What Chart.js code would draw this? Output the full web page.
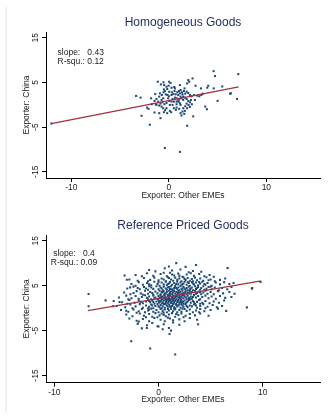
<!DOCTYPE html>
<html>
<head>
<meta charset="utf-8">
<script src="https://cdn.jsdelivr.net/npm/chart.js@4"></script>
<style>
  html, body { margin:0; padding:0; background:#fff; }
  #wrap { position:relative; width:331px; height:420px; overflow:hidden; }
  .panel { position:absolute; left:0; width:331px; height:210px; }
  #edge { position:absolute; left:5px; top:7px; width:2px; height:406px; background:#eef2f5; }
</style>
</head>
<body>
<div id="wrap">
  <div id="edge"></div>
  <div class="panel" style="top:0"><canvas id="c1" width="331" height="210"></canvas></div>
  <div class="panel" style="top:210px"><canvas id="c2" width="331" height="210"></canvas></div>
</div>
<script>
// ---------- data ----------
const titles = ["Homogeneous Goods", "Reference Priced Goods"];
const xAxisTitle = "Exporter: Other EMEs";
const yAxisTitle = "Exporter: China";
const xTickValues = [-10, 0, 10];
const yTickValues = [-15, -5, 5, 15];
const statsHomogeneous = ["slope:   0.43", "R-squ.: 0.12"];
const statsReference = ["slope:   0.4", "R-squ.: 0.09"];

// fitted lines (end points)
const homogeneousFitX = [-12.05, 7.16];
const homogeneousFitY = [-4.2, 4.0];
const referenceFitX = [-6.78, 9.86];
const referenceFitY = [-0.56, 6.1];

// scatter points [x, y]
const homogeneousPoints = [
[-12.05,-4.2],[-3.36,1.98],[-2.9,1.6],[-2.8,-2.47],[-1.95,-4.47],[-0.41,-9.67],[1.13,-10.56],[1.88,-4.7],[2.5,-2.6],
[4.59,7.53],[4.73,6.42],[7.12,6.87],[6.99,1.31],[6.37,2.56],[6.27,2.49],[5.48,4.1],[5.0,0.87],[3.9,-1.0],[3.73,-0.4],
[4.04,4.27],[3.94,3.82],[4.6,3.67],[3.46,2.49],[3.29,3.67],[2.74,4.27],[2.43,5.9],[1.99,5.53],[2.09,5.16],[1.88,4.78],
[-1.13,5.16],[-0.82,4.56],[-0.55,5.01],[-0.48,4.41],[-0.24,4.04],[0.03,5.16],[0.17,4.86],[-0.03,4.27],[0.27,3.82],
[0.55,3.97],[0.62,3.67],[-0.51,3.45],[-0.41,3.08],[-0.17,3.53],[-0.55,2.79],[-0.31,2.34],[-1.40,2.41],[-0.99,1.82],
[-0.72,2.19],[-0.14,2.19],[0.00,1.90],[0.27,2.19],[0.45,2.41],[0.69,2.34],[0.86,2.79],[1.03,3.08],[1.20,3.30],
[1.34,2.79],[0.96,2.19],[1.20,1.82],[1.40,2.34],[1.68,2.49],[1.82,2.93],[1.99,2.64],[2.16,2.19],[2.33,1.90],
[2.57,2.19],[2.91,2.04],[3.12,1.90],[3.32,2.19],[1.13,4.41],[1.61,3.67],[1.54,3.08],[0.79,1.45],[1.06,1.23],
[1.30,1.45],[1.47,1.08],[1.64,1.60],[1.82,1.30],[1.99,0.86],[2.16,0.56],[2.36,0.12],[0.99,0.71],[1.13,0.34],
[1.20,-0.03],[0.79,0.12],[0.51,0.71],[0.38,-0.03],[0.27,0.71],[0.03,0.86],[-0.24,0.41],[-0.45,0.12],[-0.65,0.56],
[-0.86,0.27],[-0.99,-0.18],[-1.27,-0.03],[-1.47,0.86],[-1.82,1.45],[-1.34,0.12],[-0.75,-0.40],[-0.58,-0.77],
[-0.38,-1.21],[-0.51,-1.66],[-0.17,-1.88],[0.10,-1.36],[0.24,-1.66],[-0.99,-1.88],[-1.47,-1.73],[-0.86,-2.99],
[-2.23,-0.62],[-2.09,-0.92],[-1.75,0.12],[0.79,-0.62],[1.06,-0.92],[1.47,-0.77],[1.68,-0.33],[2.02,-0.03],
[1.20,-1.88],[1.40,-1.51],[1.64,-1.36],[1.88,-0.77],[2.16,-0.47],[0.72,-1.14],[0.51,-0.77],[1.30,-2.40],
[1.58,-2.03],[0.10,-0.03],[-0.07,1.45],[0.96,0.86],[0.62,1.60],[0.38,1.30],[0.79,0.71],[1.13,2.56],[1.47,1.82],
[1.82,0.27],[2.26,1.08],[2.67,1.08],[-0.24,-0.77],[-0.58,1.45],[-0.75,1.08],[-1.10,0.71],[-1.27,1.30],
[-0.92,2.56],[0.03,2.93],[0.31,2.79],[0.58,3.08]
];

const referencePoints = [
// outliers
[-6.71,3.15],[-6.71,0.41],[-5.08,1.74],[-4.38,0.41],[-3.26,7.30],[-3.04,6.33],[-3.74,1.37],[-3.10,-0.56],[-2.72,4.63],
[-2.62,-7.37],[-0.80,-9.00],[1.60,-10.33],[1.70,10.04],[6.63,8.92],[8.48,0.18],[9.0,4.48],[9.79,5.81],[8.96,4.33],
// y 8..10
[-0.3,8.2],[0.6,8.9],[1.3,8.4],[2.1,8.6],[2.6,9.2],[3.3,8.3],[3.6,9.6],[-0.9,8.5],[4.1,8.1],[1.0,9.3],[2.9,8.0],
// y 7..8
[-2.2,7.4],[-1.1,7.8],[-0.5,7.2],[0.2,7.6],[0.8,7.1],[1.1,7.9],[1.5,7.3],[1.9,7.7],[2.3,7.0],[2.7,7.5],[3.1,7.8],
[3.4,7.2],[3.9,7.6],[4.4,7.1],[4.9,7.4],[0.5,7.9],[2.0,7.2],[-1.6,7.1],[5.3,7.0],[1.3,7.5],
// y 6..7
[-2.8,6.4],[-2.0,6.1],[-1.4,6.7],[-0.8,6.3],[-0.4,6.8],[0.0,6.2],[0.3,6.6],[0.7,6.0],[0.9,6.9],[1.2,6.4],[1.4,6.1],
[1.6,6.8],[1.8,6.3],[2.0,6.6],[2.2,6.0],[2.4,6.9],[2.6,6.3],[2.8,6.7],[3.0,6.1],[3.2,6.5],[3.5,6.8],[3.7,6.2],
[4.0,6.6],[4.3,6.1],[4.6,6.9],[5.0,6.4],[5.4,6.0],[5.9,6.3],[6.4,6.6],[-1.0,6.0],[0.5,6.4],[1.0,6.7],[2.5,6.5],
[3.3,6.0],[4.8,6.2],
// y 5..6
[-2.6,5.4],[-1.9,5.8],[-1.5,5.2],[-1.1,5.6],[-0.7,5.1],[-0.4,5.9],[-0.1,5.4],[0.1,5.0],[0.3,5.7],[0.5,5.3],[0.7,5.9],
[0.8,5.1],[1.0,5.5],[1.1,5.8],[1.3,5.2],[1.5,5.6],[1.6,5.0],[1.8,5.9],[1.9,5.3],[2.1,5.7],[2.2,5.1],[2.4,5.5],
[2.5,5.9],[2.7,5.2],[2.9,5.6],[3.0,5.0],[3.2,5.8],[3.4,5.3],[3.6,5.7],[3.8,5.1],[4.0,5.5],[4.2,5.9],[4.5,5.2],
[4.7,5.6],[5.1,5.0],[5.5,5.7],[5.9,5.3],[6.3,5.8],[6.8,5.4],[7.2,5.6],[-0.9,5.3],[0.0,5.8],[0.9,5.4],[1.7,5.4],
[2.3,5.3],[2.8,5.8],[3.3,5.5],[3.9,5.8],[4.4,5.4],[-2.2,5.0],
// y 4..5
[-3.0,4.4],[-2.4,4.8],[-1.8,4.2],[-1.4,4.7],[-1.0,4.1],[-0.7,4.6],[-0.5,4.3],[-0.2,4.9],[0.0,4.2],[0.2,4.6],[0.4,4.0],
[0.5,4.8],[0.7,4.4],[0.8,4.1],[1.0,4.7],[1.1,4.3],[1.2,4.9],[1.4,4.0],[1.5,4.5],[1.6,4.8],[1.8,4.2],[1.9,4.6],
[2.0,4.0],[2.1,4.9],[2.3,4.4],[2.4,4.7],[2.6,4.1],[2.7,4.5],[2.9,4.8],[3.0,4.2],[3.2,4.6],[3.3,4.0],[3.5,4.9],
[3.6,4.3],[3.8,4.7],[4.0,4.1],[4.1,4.5],[4.3,4.9],[4.6,4.3],[4.8,4.7],[5.1,4.2],[5.4,4.6],[5.8,4.0],[6.1,4.5],
[6.6,4.2],[7.0,4.7],[-2.0,4.5],[-0.9,4.9],[0.3,4.4],[0.9,4.6],[1.3,4.2],[1.7,4.5],[2.2,4.2],[2.5,4.4],[2.8,4.0],
[3.1,4.4],[3.7,4.5],[4.4,4.1],[5.0,4.8],[-1.2,4.4],
// y 3..4
[-3.3,3.5],[-2.7,3.1],[-2.1,3.8],[-1.7,3.3],[-1.3,3.9],[-1.0,3.2],[-0.8,3.6],[-0.5,3.0],[-0.3,3.7],[-0.1,3.3],[0.1,3.9],
[0.2,3.1],[0.4,3.5],[0.5,3.8],[0.6,3.2],[0.8,3.6],[0.9,3.0],[1.0,3.9],[1.1,3.4],[1.2,3.7],[1.3,3.1],[1.4,3.5],
[1.5,3.9],[1.6,3.2],[1.7,3.6],[1.8,3.0],[1.9,3.8],[2.0,3.3],[2.1,3.6],[2.2,3.0],[2.3,3.9],[2.4,3.4],[2.6,3.7],
[2.7,3.1],[2.8,3.5],[3.0,3.8],[3.1,3.2],[3.2,3.6],[3.4,3.0],[3.5,3.9],[3.7,3.4],[3.9,3.7],[4.1,3.1],[4.3,3.5],
[4.5,3.9],[4.7,3.2],[5.0,3.6],[5.3,3.1],[5.7,3.8],[6.2,3.3],[6.8,3.6],[7.3,3.2],[-2.4,3.4],[-1.5,3.0],[-0.6,3.4],
[0.3,3.6],[0.7,3.3],[1.05,3.2],[1.45,3.8],[1.85,3.4],[2.25,3.2],[2.55,3.5],[2.95,3.3],[3.6,3.2],[4.0,3.5],
// y 2..3
[-3.8,2.4],[-3.1,2.8],[-2.6,2.2],[-2.2,2.7],[-1.9,2.1],[-1.6,2.5],[-1.3,2.9],[-1.1,2.3],[-0.9,2.6],[-0.7,2.0],[-0.5,2.8],
[-0.3,2.4],[-0.1,2.1],[0.0,2.7],[0.1,2.3],[0.2,2.9],[0.3,2.0],[0.4,2.6],[0.5,2.2],[0.6,2.8],[0.7,2.4],[0.8,2.1],
[0.9,2.7],[1.0,2.3],[1.1,2.9],[1.2,2.0],[1.3,2.5],[1.4,2.8],[1.5,2.2],[1.6,2.6],[1.7,2.0],[1.8,2.9],[1.9,2.4],
[2.0,2.7],[2.1,2.1],[2.2,2.5],[2.3,2.9],[2.4,2.2],[2.5,2.6],[2.7,2.0],[2.8,2.8],[2.9,2.3],[3.1,2.6],[3.2,2.1],
[3.4,2.9],[3.6,2.4],[3.8,2.7],[4.0,2.0],[4.2,2.5],[4.5,2.8],[4.8,2.2],[5.1,2.6],[5.5,2.1],[5.9,2.7],[6.4,2.3],
[7.0,2.5],[-2.9,2.0],[-0.4,2.2],[0.25,2.5],[0.65,2.0],[1.05,2.6],[1.35,2.2],[1.65,2.4],[2.05,2.3],[2.45,2.9],
[2.65,2.4],[3.0,2.2],[3.3,2.5],[0.55,2.9],[1.75,2.7],
// y 1..2
[-4.3,1.6],[-3.5,1.3],[-2.8,1.8],[-2.3,1.2],[-1.9,1.7],[-1.5,1.1],[-1.2,1.5],[-1.0,1.9],[-0.8,1.3],[-0.6,1.7],[-0.4,1.0],
[-0.2,1.5],[0.0,1.8],[0.1,1.2],[0.2,1.6],[0.3,1.9],[0.4,1.3],[0.5,1.7],[0.6,1.0],[0.7,1.4],[0.8,1.8],[0.9,1.2],
[1.0,1.6],[1.1,1.9],[1.2,1.1],[1.3,1.5],[1.4,1.8],[1.5,1.3],[1.6,1.7],[1.7,1.0],[1.8,1.4],[1.9,1.9],[2.0,1.2],
[2.1,1.6],[2.2,1.9],[2.3,1.3],[2.5,1.7],[2.6,1.1],[2.8,1.5],[2.9,1.8],[3.1,1.2],[3.3,1.6],[3.5,1.0],[3.7,1.4],
[3.9,1.8],[4.2,1.2],[4.5,1.6],[4.9,1.1],[5.3,1.5],[5.8,1.2],[6.3,1.7],[-3.0,1.0],[-1.7,1.4],[-0.5,1.4],[0.35,1.1],
[0.75,1.6],[1.15,1.4],[1.45,1.0],[1.85,1.6],[2.15,1.4],[2.4,1.0],[2.7,1.3],[3.0,1.9],[3.4,1.3],[4.0,1.0],
[0.05,1.4],[0.95,1.9],[1.55,1.6],[2.35,1.5],[-0.9,1.6],
// y 0..1
[-4.0,0.5],[-3.2,0.2],[-2.7,0.8],[-2.2,0.4],[-1.8,0.9],[-1.5,0.1],[-1.2,0.6],[-0.9,0.3],[-0.7,0.8],[-0.5,0.0],[-0.3,0.5],
[-0.1,0.9],[0.1,0.2],[0.2,0.7],[0.4,0.4],[0.5,0.9],[0.6,0.1],[0.8,0.6],[0.9,0.3],[1.0,0.8],[1.2,0.0],[1.3,0.5],
[1.4,0.9],[1.5,0.2],[1.7,0.7],[1.8,0.4],[2.0,0.8],[2.1,0.1],[2.3,0.6],[2.4,0.3],[2.6,0.9],[2.8,0.2],[3.0,0.6],
[3.2,0.4],[3.4,0.8],[3.7,0.1],[4.0,0.5],[4.3,0.9],[4.7,0.3],[5.2,0.7],[5.6,0.2],[6.1,0.5],[-2.5,0.0],[-1.0,0.0],
[0.3,0.0],[0.7,0.9],[1.1,0.4],[1.6,0.0],[1.9,0.6],[2.2,0.9],[2.7,0.5],[3.6,0.6],[0.0,0.4],[-0.6,0.6],[4.5,0.0],
// y -1..0
[-3.6,-0.4],[-2.9,-0.8],[-2.4,-0.3],[-1.9,-0.7],[-1.6,-0.2],[-1.3,-0.9],[-1.0,-0.5],[-0.7,-0.1],[-0.5,-0.8],[-0.2,-0.4],
[0.0,-0.9],[0.2,-0.2],[0.4,-0.6],[0.6,-0.3],[0.8,-0.9],[1.0,-0.5],[1.2,-0.1],[1.4,-0.7],[1.6,-0.3],[1.8,-0.9],
[2.0,-0.4],[2.2,-0.8],[2.5,-0.2],[2.7,-0.6],[3.0,-0.3],[3.3,-0.9],[3.6,-0.5],[4.0,-0.2],[4.4,-0.7],[5.0,-0.4],
[5.7,-0.1],[-0.9,-0.3],[0.5,-1.0],[1.5,-0.1],[2.3,-0.1],[0.9,-0.2],[-2.1,-1.0],[3.9,-0.9],[6.5,-0.6],
// y -2..-1
[-3.1,-1.4],[-2.5,-1.8],[-1.8,-1.2],[-1.4,-1.7],[-0.9,-1.3],[-0.6,-1.9],[-0.3,-1.1],[0.1,-1.6],[0.3,-1.2],[0.7,-1.8],
[1.0,-1.4],[1.3,-1.1],[1.6,-1.9],[1.9,-1.5],[2.2,-1.2],[2.6,-1.7],[3.0,-1.3],[3.5,-1.6],[4.0,-1.2],[-0.1,-2.0],
[1.7,-1.3],[0.5,-1.5],[-1.2,-2.0],[2.4,-2.0],[4.8,-1.7],
// y -3..-2
[-2.8,-2.3],[-2.1,-2.8],[-1.5,-2.4],[-0.9,-2.9],[-0.4,-2.2],[0.2,-2.6],[0.6,-2.9],[1.1,-2.3],[1.4,-2.7],[2.0,-2.5],
[2.5,-2.9],[3.0,-2.2],[3.7,-2.6],[-1.9,-3.0],[0.9,-2.1],
// y below -3
[-2.0,-3.5],[-1.1,-3.8],[-0.6,-3.3],[0.0,-4.1],[0.5,-3.6],[1.0,-4.4],[1.4,-3.2],[2.0,-3.7],[-1.6,-4.5],[1.2,-5.0],
[0.4,-4.7],[3.8,-3.6],[-1.12,-4.41],[-0.09,-4.04],[1.06,-5.74]
];

// ---------- drawing ----------
const FONT = "'Liberation Sans', Arial, Helvetica, sans-serif";
const POINT_COLOR = '#1f4a78';
const LINE_COLOR = '#a0323e';
const TEXT_COLOR = '#222';

const extras = {
  id: 'extras',
  afterDraw(chart, args, opts) {
    const ctx = chart.ctx;
    const ys = chart.scales.y;
    ctx.save();
    ctx.fillStyle = TEXT_COLOR;
    ctx.font = '8.5px ' + FONT;
    ctx.textAlign = 'center';
    ctx.textBaseline = 'middle';
    yTickValues.forEach(v => {
      const py = ys.getPixelForValue(v);
      ctx.save();
      ctx.translate(opts.tickLabelX, py);
      ctx.rotate(-Math.PI / 2);
      ctx.fillText(String(v), 0, 0);
      ctx.restore();
    });
    // stats text
    const ca = chart.chartArea;
    opts.stats.forEach((s, i) => {
      ctx.fillText(s, ca.left + opts.statsDX, ca.top + opts.statsDY + i * 9);
    });
    ctx.restore();
  }
};

function makeChart(id, p) {
  const pts = p.points.map(d => ({x: d[0], y: d[1]}));
  const fit = p.fitX.map((x, i) => ({x: x, y: p.fitY[i]}));
  return new Chart(document.getElementById(id), {
    type: 'scatter',
    data: {
      datasets: [
        { type: 'line', data: fit, borderColor: LINE_COLOR, borderWidth: 1.3, pointRadius: 0, fill: false, tension: 0 },
        { data: pts, pointStyle: 'rect', pointRadius: 1.45, backgroundColor: POINT_COLOR, borderWidth: 0 }
      ]
    },
    options: {
      responsive: false,
      animation: false,
      devicePixelRatio: 1,
      layout: { padding: { left: 21.5, right: 11, top: 0, bottom: 0 } },
      plugins: {
        legend: { display: false },
        tooltip: { enabled: false },
        title: {
          display: true, text: p.title, fullSize: false, color: '#1f2d5c',
          font: { family: FONT, size: 12, weight: 'normal', lineHeight: 1.2 },
          padding: { top: p.titleTop, bottom: p.titleBottom }
        },
        extras: { tickLabelX: 36, stats: p.stats, statsDX: p.statsDX, statsDY: p.statsDY }
      },
      scales: {
        x: {
          type: 'linear', min: p.xMin, max: p.xMax,
          afterBuildTicks: s => { s.ticks = xTickValues.map(v => ({ value: v })); },
          afterFit: s => { s.height = p.xHeight; },
          grid: { display: true, drawOnChartArea: false, drawTicks: true, tickLength: 4, color: '#000', lineWidth: 1 },
          border: { display: true, color: '#000', width: 1 },
          ticks: { color: TEXT_COLOR, font: { family: FONT, size: 8.5 }, padding: 1, maxRotation: 0, minRotation: 0 },
          title: { display: true, text: xAxisTitle, color: TEXT_COLOR, font: { family: FONT, size: 8.5 }, padding: { top: 0, bottom: p.xTitlePad } }
        },
        y: {
          type: 'linear', min: p.yMin, max: p.yMax,
          afterBuildTicks: s => { s.ticks = yTickValues.map(v => ({ value: v })); },
          afterFit: s => { s.width = 24.5; },
          grid: { display: true, drawOnChartArea: false, drawTicks: true, tickLength: 4, color: '#000', lineWidth: 1 },
          border: { display: true, color: '#000', width: 1 },
          ticks: { display: false },
          title: { display: true, text: yAxisTitle, color: TEXT_COLOR, font: { family: FONT, size: 8.5 }, padding: 0 }
        }
      }
    },
    plugins: [extras]
  });
}

makeChart('c1', {
  title: titles[0], points: homogeneousPoints, fitX: homogeneousFitX, fitY: homogeneousFitY,
  xMin: -12.6, xMax: 15.5, yMin: -16.4, yMax: 16.3,
  titleTop: 15.8, titleBottom: 1.8, xHeight: 32, xTitlePad: 8.9,
  stats: statsHomogeneous, statsDX: 34.7, statsDY: 20.5
});
makeChart('c2', {
  title: titles[1], points: referencePoints, fitX: referenceFitX, fitY: referenceFitY,
  xMin: -10.8, xMax: 15.5, yMin: -16.6, yMax: 16.3,
  titleTop: 8.8, titleBottom: 1.8, xHeight: 37.3, xTitlePad: 14.9,
  stats: statsReference, statsDX: 28, statsDY: 19
});
</script>
</body>
</html>
